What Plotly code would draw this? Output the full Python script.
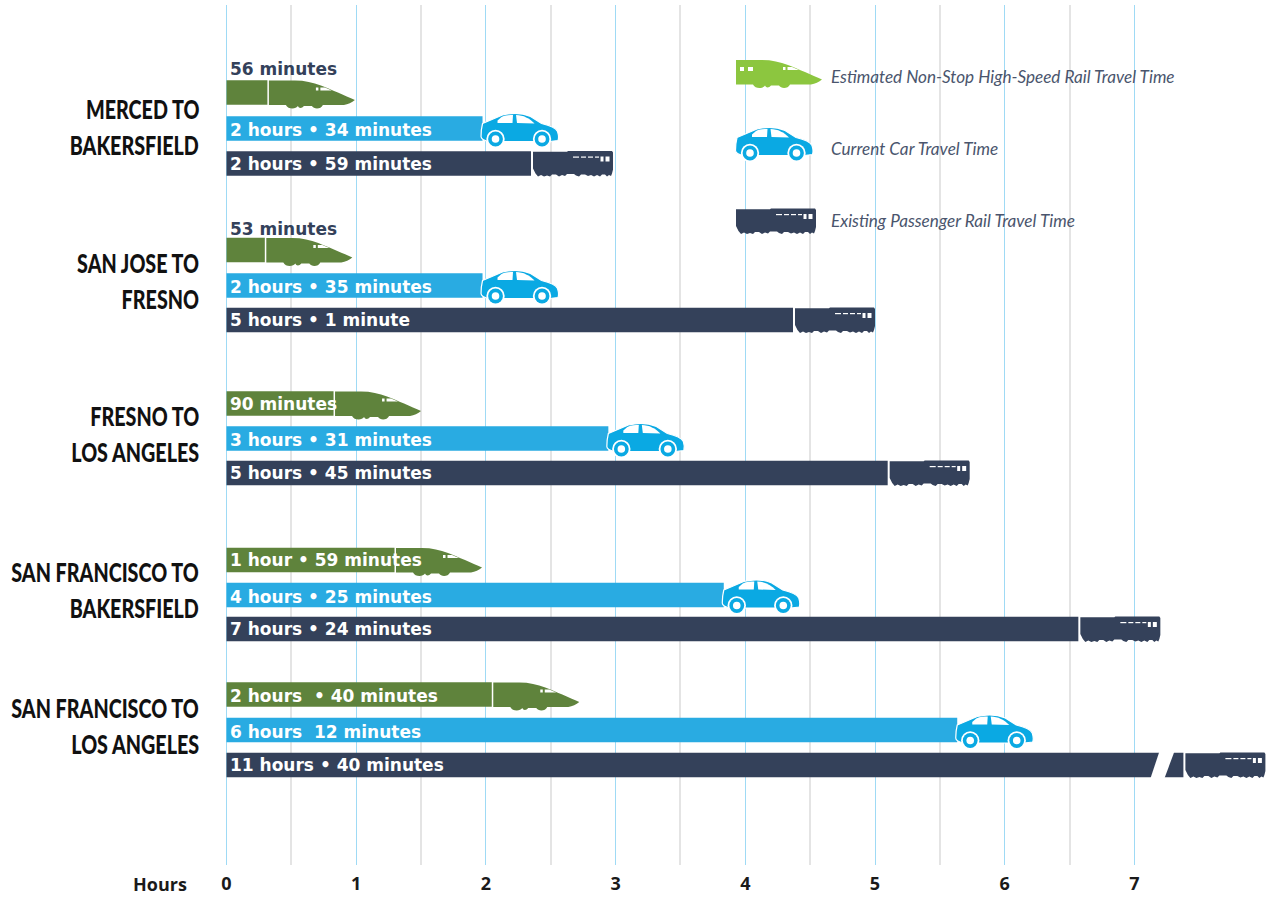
import re

from plotly import graph_objects as go

# hours as drawn in the picture (last rail bar is cut by an axis break)
routes = [
    ["MERCED TO", "BAKERSFIELD"],
    ["SAN JOSE TO", "FRESNO"],
    ["FRESNO TO", "LOS ANGELES"],
    ["SAN FRANCISCO TO", "BAKERSFIELD"],
    ["SAN FRANCISCO TO", "LOS ANGELES"],
]
hsr_hours = [0.99, 0.97, 1.5, 1.97, 2.72]
car_hours = [2.56, 2.56, 3.53, 4.42, 6.22]
rail_hours = [2.98, 5.0, 5.73, 7.2, 8.01]

hsr_labels = ["56 minutes", "53 minutes", "90 minutes", "1 hour • 59 minutes", "2 hours  • 40 minutes"]
car_labels = ["2 hours • 34 minutes", "2 hours • 35 minutes", "3 hours • 31 minutes",
              "4 hours • 25 minutes", "6 hours  12 minutes"]
rail_labels = ["2 hours • 59 minutes", "5 hours • 1 minute", "5 hours • 45 minutes",
               "7 hours • 24 minutes", "11 hours • 40 minutes"]

hour_ticks = [0, 1, 2, 3, 4, 5, 6, 7]
half_ticks = [0.5, 1.5, 2.5, 3.5, 4.5, 5.5, 6.5]

legend_names = ["Estimated Non-Stop High-Speed Rail Travel Time",
                "Current Car Travel Time",
                "Existing Passenger Rail Travel Time"]

# layout: the y axis runs in page pixels
W, H = 1274, 899
X0, PX_PER_HOUR = 226.5, 129.7
hsr_y = [92.5, 250, 403.5, 560, 694.5]
car_y = [128.5, 285.5, 438.5, 595, 730]
rail_y = [163.5, 320, 473, 629, 765]
route_y = [126, 280, 433, 589, 725]
hsr_text_y = [69, 229, 404, 560, 696]
BAR_W = 24.5

GREEN_DARK = "#5f833c"
GREEN = "#8cc63f"
BLUE = "#29abe2"
BLUE_ICON = "#0aa9e3"
NAVY = "#34415a"
WHITE = "#ffffff"
BAR_FONT = "DejaVu Sans"
HEAD_FONT = "Lato"

# icon outlines, pixels from the bar end and row centre, y down
HSR_LEN, CAR_LEN, RAIL_LEN = 86, 77, 80
HSR_PATH = ("M-86 -12 L-60 -12 C-50 -12 -42 -10 -34 -7 C-24 -3 -10 3 0 7.5 C-3 10 -7 12 -11 12.5 "
            "L-32 12.5 C-34 17 -41 17 -43 13.5 L-51 13.5 C-53 16 -56 16 -57 13.5 "
            "C-59 17 -67 17 -69 12.5 L-86 12.5 Z")
HSR_WINDOWS = ["M-39 -5 L-36.5 -5 L-36.5 -2 L-39 -2 Z", "M-34.5 -5 L-30 -5 L-23 -2 L-34.5 -2 Z"]
HSR_SIDE_WINDOWS = ["M-82 -5 L-78 -5 L-78 -1 L-82 -1 Z", "M-74 -5 L-69 -5 L-69 -1 L-74 -1 Z"]
CAR_PATH = ("M-76 -5 L-56 -13.5 C-46 -16 -36 -15.5 -28 -12 L-17 -5 C-9 -3 -3 -1 -1 3 "
            "C0 6 0.5 9 -0.5 12 L-9 13 L-24 13 L-55 13 L-70 13 C-74 12 -77.5 11 -77.5 8 "
            "C-77.5 3 -77 -1 -76 -5 Z")
CAR_WINDOWS = ["M-61 -8 L-57 -11.5 C-53 -13.5 -49 -13.5 -45.5 -13.5 L-46 -5.5 L-61 -5.5 Z",
               "M-42.5 -13.5 C-35 -13.5 -29 -10 -24 -5 L-41.5 -5.5 Z"]
RAIL_PATH = ("M-80 -11.8 L-46 -11.8 L-45 -12.5 L-1 -12.5 L0 -11 L0 6 L-1 10 L-2 12.5 L-4 11.5 L-6 13 L-8 11 "
             "L-11 11 L-13 13 L-16 11.5 L-19 13 L-22 11.5 L-25 12.5 L-28 11 L-32 11 L-34 13 L-37 12 L-39 10.5 "
             "L-46 10.5 L-48 12.5 L-51 11.5 L-54 13 L-57 11 L-61 11 L-63 13 L-66 12 L-69 13 L-72 11.5 L-75 13 "
             "L-77.5 10 L-80 5 Z")
RAIL_DASHES = ["M-40 -7 L-34 -7 L-34 -5.8 L-40 -5.8 Z", "M-32 -7 L-27 -7 L-27 -5.8 L-32 -5.8 Z",
               "M-25 -7 L-20 -7 L-20 -5.8 L-25 -5.8 Z", "M-18 -7 L-14 -7 L-14 -5.8 L-18 -5.8 Z",
               "M-12.5 -7 L-9.5 -7 L-9.5 -2 L-12.5 -2 Z", "M-7.5 -7 L-3.5 -7 L-3.5 -2 L-7.5 -2 Z"]
BREAK_PATH = "M-106 -13.5 L-91 -13.5 L-101 13.5 L-115 13.5 Z"

# the originals are set in a condensed face, so squeeze the two text styles that need it
SQUEEZE_JS = """
document.body.style.margin = '0';
document.body.style.overflow = 'hidden';
document.querySelectorAll('.annotation-text').forEach(function (t) {
    var k = t.style.fontStyle === 'italic' ? 0.952 : (t.style.fontSize === '27px' ? 0.73 : 1);
    if (k < 1) {
        t.setAttribute('textLength', t.getComputedTextLength() * k);
        t.setAttribute('lengthAdjust', 'spacingAndGlyphs');
    }
});
"""


def to_hours(px):
    return (px - X0) / PX_PER_HOUR


def flip(path):
    # pixel sized shapes count y upwards
    out = []
    for part in re.findall(r"[A-Z]|[^A-Z]+", path):
        if part.isalpha():
            out.append(part)
        else:
            nums = part.split()
            out.append(" ".join(n if i % 2 == 0 else str(-float(n)) for i, n in enumerate(nums)) + " ")
    return "".join(out)


def piece(path, x, y, fill, outline=0):
    return dict(type="path", xref="x", yref="y", xsizemode="pixel", ysizemode="pixel",
                xanchor=x, yanchor=y, path=flip(path), fillcolor=fill,
                line=dict(width=outline, color=WHITE), layer="above")


def disc(x, y, cx, cy, r, fill):
    return dict(type="circle", xref="x", yref="y", xsizemode="pixel", ysizemode="pixel",
                xanchor=x, yanchor=y, x0=cx - r, x1=cx + r, y0=-cy - r, y1=-cy + r,
                fillcolor=fill, line=dict(width=0), layer="above")


def hsr_icon(x, y, color, side_windows=False):
    parts = [piece(HSR_PATH, x, y, color)]
    windows = HSR_WINDOWS + (HSR_SIDE_WINDOWS if side_windows else [])
    return parts + [piece(w, x, y, WHITE) for w in windows]


def car_icon(x, y, color):
    parts = [piece(CAR_PATH, x, y, color, 1.2)]
    parts += [piece(w, x, y, WHITE) for w in CAR_WINDOWS]
    for cx in (-63, -16.5):
        parts += [disc(x, y, cx, 10.5, 9.2, WHITE), disc(x, y, cx, 10.5, 7.4, color), disc(x, y, cx, 10.5, 3.8, WHITE)]
    return parts


def rail_icon(x, y, color):
    return [piece(RAIL_PATH, x, y, color)] + [piece(d, x, y, WHITE) for d in RAIL_DASHES]


def bar_trace(hours, rows, gap_px, color):
    return go.Bar(x=[h - gap_px / PX_PER_HOUR for h in hours], y=rows, base=0, orientation="h",
                  width=BAR_W, marker=dict(color=color, line=dict(width=0)), hoverinfo="skip")


def bar_text(text, y, color=WHITE):
    return dict(x=0, y=y, xref="x", yref="y", text=text, showarrow=False, xanchor="left", yanchor="middle",
                xshift=1, font=dict(family=BAR_FONT, size=17, color=color, weight=700))


fig = go.Figure([
    bar_trace(hsr_hours, hsr_y, HSR_LEN + 1.5, GREEN_DARK),
    bar_trace(car_hours, car_y, CAR_LEN - 1, BLUE),
    bar_trace(rail_hours, rail_y, RAIL_LEN + 2, NAVY),
])

shapes = []
notes = []
for i in range(len(routes)):
    shapes += hsr_icon(hsr_hours[i], hsr_y[i], GREEN_DARK)
    shapes += car_icon(car_hours[i], car_y[i], BLUE_ICON)
    shapes += rail_icon(rail_hours[i], rail_y[i], NAVY)

    notes.append(bar_text(hsr_labels[i], hsr_text_y[i], NAVY if i < 2 else WHITE))
    notes.append(bar_text(car_labels[i], car_y[i] + 1.5))
    notes.append(bar_text(rail_labels[i], rail_y[i]))
    for line, dy in zip(routes[i], (-18, 18)):
        notes.append(dict(x=0, y=route_y[i] + dy, xref="x", yref="y", text=line, showarrow=False,
                          xanchor="right", yanchor="middle", xshift=-26, align="right",
                          font=dict(family=HEAD_FONT, size=27, color="#111111", weight=900)))

# axis break on the longest rail trip
shapes.append(piece(BREAK_PATH, rail_hours[4], rail_y[4], WHITE))

# legend
shapes += hsr_icon(to_hours(822), 72, GREEN, side_windows=True)
shapes += car_icon(to_hours(813), 142.5, BLUE_ICON)
shapes += rail_icon(to_hours(816), 221, NAVY)
for name, y in zip(legend_names, (76, 148, 220)):
    notes.append(dict(x=to_hours(829), y=y, xref="x", yref="y", text=name, showarrow=False,
                      xanchor="left", yanchor="middle", align="left",
                      font=dict(family=HEAD_FONT, size=18, color="#4a556d", style="italic")))

notes.append(dict(x=to_hours(189), y=(865 - 884) / 860, xref="x", yref="paper", yanchor="middle", xanchor="right",
                  showarrow=False, text="Hours",
                  font=dict(family="Open Sans", size=18, color="#1a1a1a", weight=700)))

fig.update_layout(
    width=W,
    height=H,
    autosize=False,
    margin=dict(l=0, r=0, t=5, b=34, pad=0),
    paper_bgcolor=WHITE,
    plot_bgcolor=WHITE,
    barmode="overlay",
    showlegend=False,
    shapes=shapes,
    annotations=notes,
    xaxis=dict(
        range=[to_hours(0), to_hours(W)],
        tickmode="array",
        tickvals=hour_ticks,
        ticktext=[str(t) for t in hour_ticks],
        ticks="",
        ticklabelstandoff=6,
        showgrid=True,
        gridcolor="#9fdaf5",
        gridwidth=1.2,
        zeroline=False,
        showline=False,
        tickfont=dict(family="Open Sans", size=18, color="#1a1a1a", weight=700),
        minor=dict(tickmode="array", tickvals=half_ticks, showgrid=True, gridcolor="#e4e4e4", gridwidth=1.5, ticks=""),
    ),
    yaxis=dict(range=[865, 5], visible=False),
)

fig.write_html("out.html", config=dict(displayModeBar=False), post_script=SQUEEZE_JS)
